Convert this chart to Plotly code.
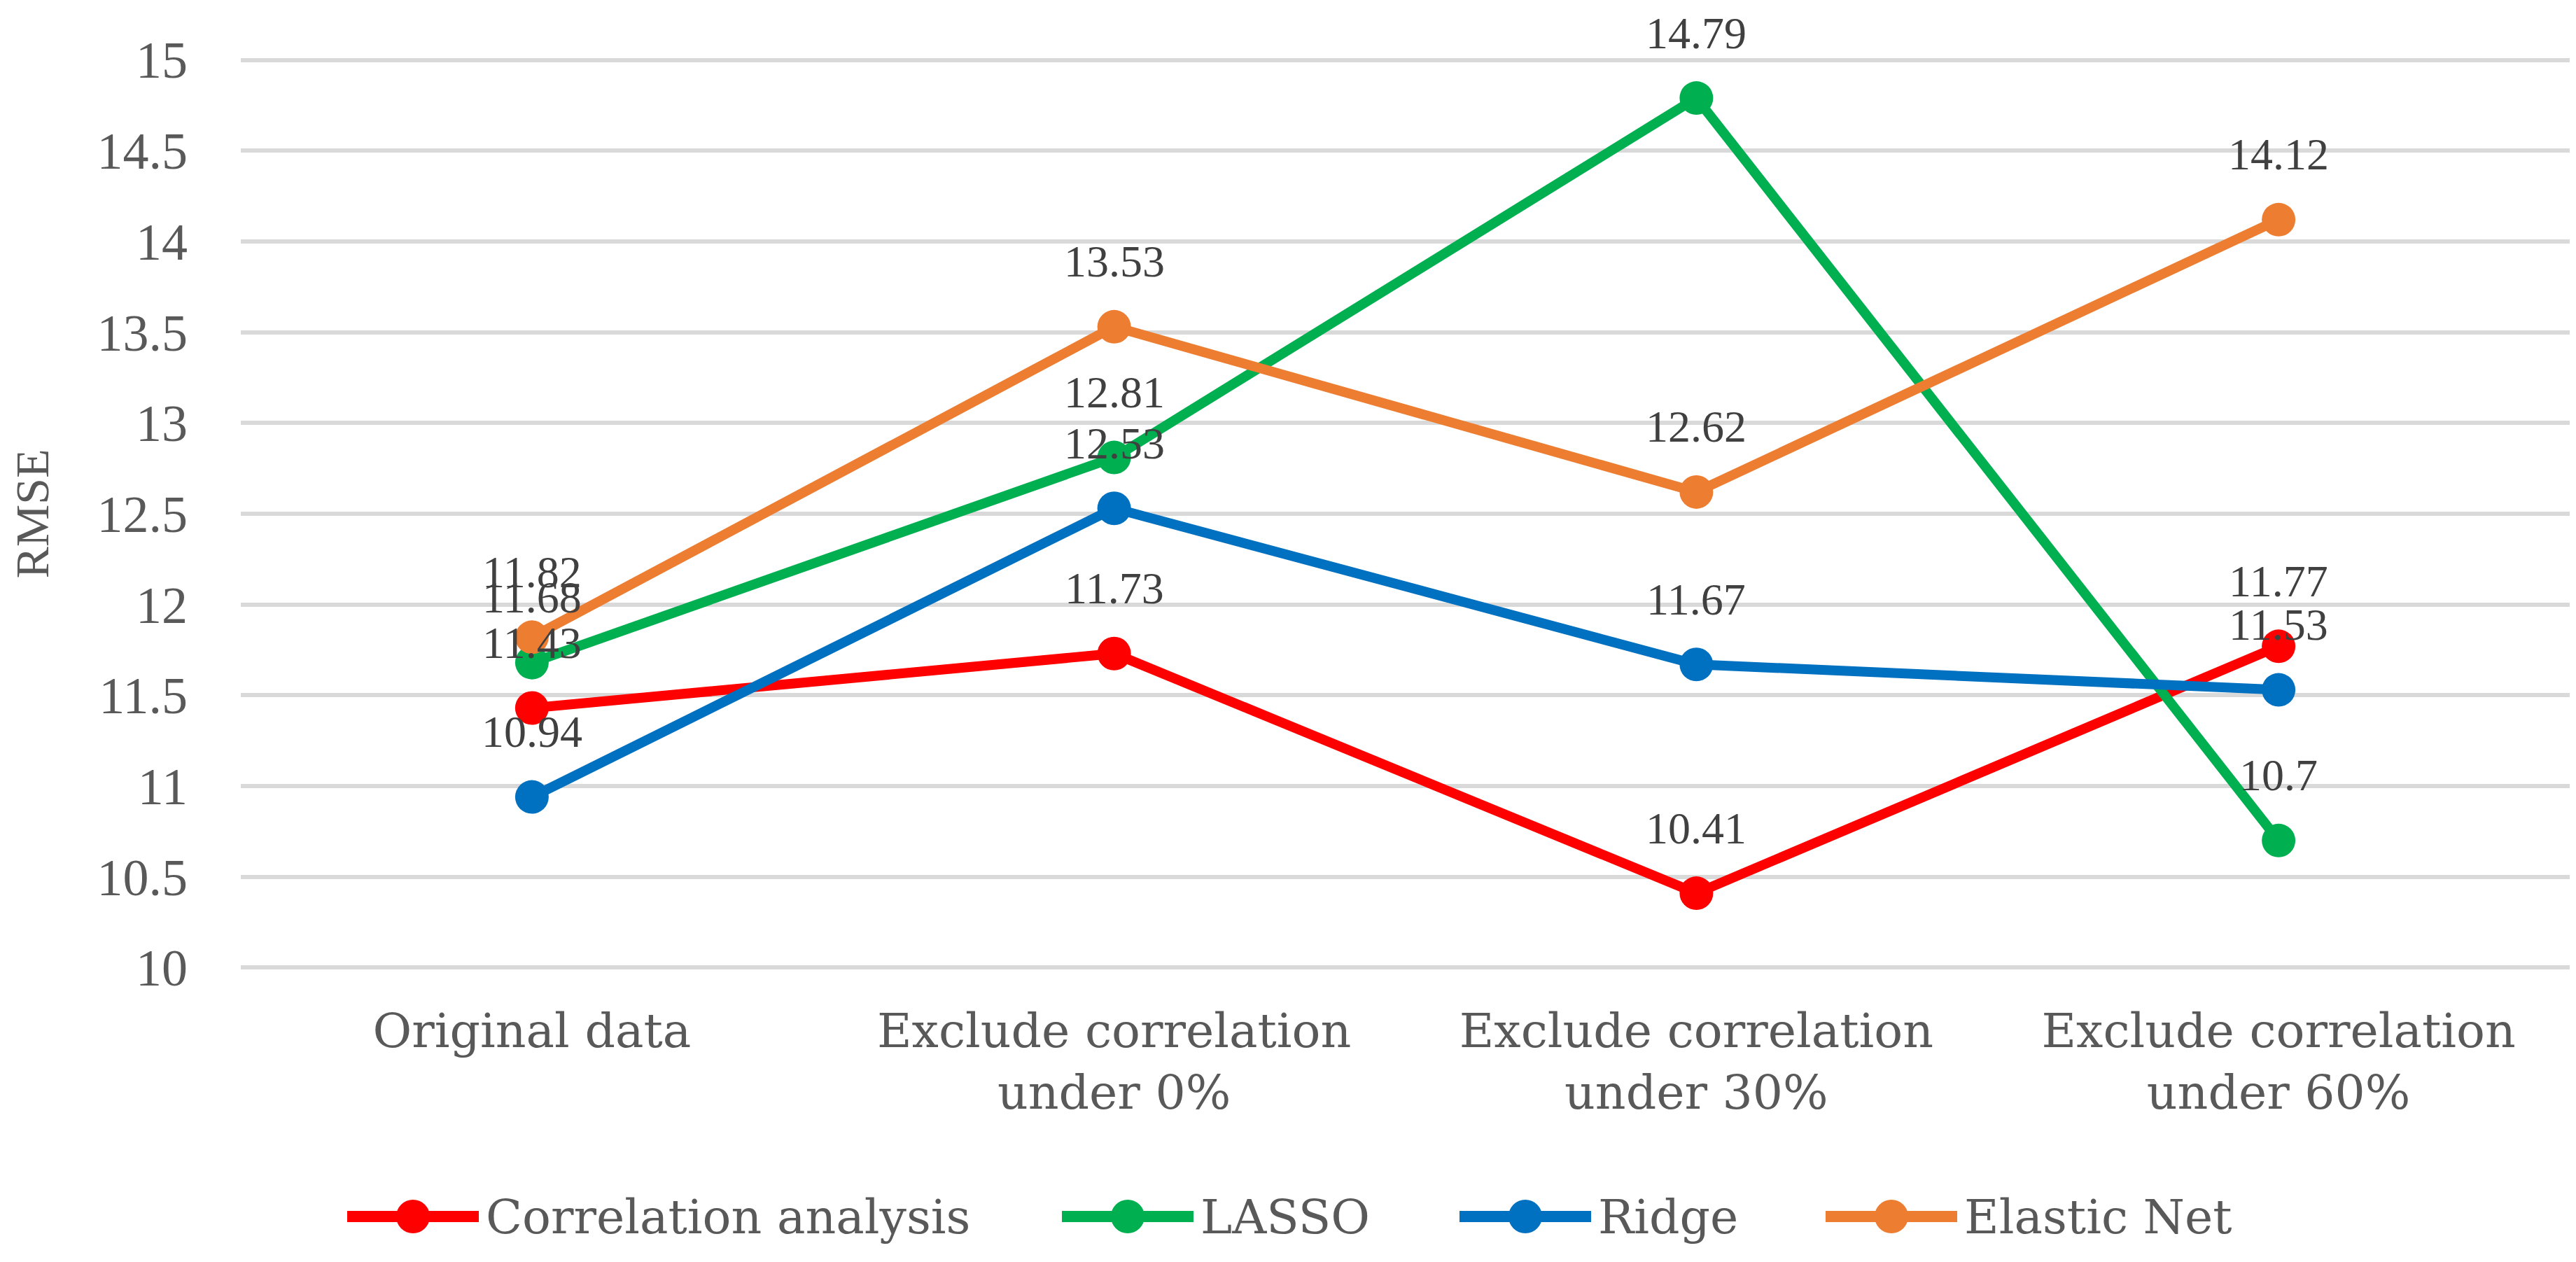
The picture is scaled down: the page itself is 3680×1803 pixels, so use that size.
import plotly.graph_objects as go

categories = ["Original data", "Exclude correlation<br>under 0%",
              "Exclude correlation<br>under 30%", "Exclude correlation<br>under 60%"]
series_names = ["Correlation analysis", "LASSO", "Ridge", "Elastic Net"]
corr_vals = [11.43, 11.73, 10.41, 11.77]
lasso_vals = [11.68, 12.81, 14.79, 10.7]
ridge_vals = [10.94, 12.53, 11.67, 11.53]
enet_vals = [11.82, 13.53, 12.62, 14.12]
y_ticks = [10, 10.5, 11, 11.5, 12, 12.5, 13, 13.5, 14, 14.5, 15]

colors = ["#FF0000", "#00B050", "#0070C0", "#ED7D31"]
all_vals = [corr_vals, lasso_vals, ridge_vals, enet_vals]

TEXT_FONT = "DejaVu Serif"
NUM_FONT = "Liberation Serif"

W, H = 3680, 1803
L, R, T, B = 336, 17, 75, 426
PW, PH = W - L - R, H - T - B

fig = go.Figure()
annotations = []
for name, vals, col in zip(series_names, all_vals, colors):
    fig.add_trace(go.Scatter(
        x=categories, y=vals, name=name, mode="lines+markers",
        line=dict(color=col, width=14),
        marker=dict(color=col, size=48),
        showlegend=False,
    ))
    for c, v in zip(categories, vals):
        annotations.append(dict(
            x=c, y=v, xref="x", yref="y", text=f"{v:g}", showarrow=False,
            yshift=93, font=dict(family=NUM_FONT, size=64, color="#404040"),
        ))

# custom legend (long line symbols with big markers, as in the reference)
legend_line_starts = [488, 1509, 2077, 2600]   # pixel x of symbol start
legend_sym_len = 188
legend_y_px = 1730
shapes = []
for name, col, x0 in zip(series_names, colors, legend_line_starts):
    px2x = lambda p: (p - L) / PW
    ly = (H - B - legend_y_px) / PH
    shapes.append(dict(type="line", xref="paper", yref="paper",
                       x0=px2x(x0), x1=px2x(x0 + legend_sym_len), y0=ly, y1=ly,
                       line=dict(color=col, width=16)))
    shapes.append(dict(type="circle", xref="paper", yref="paper",
                       xsizemode="pixel", ysizemode="pixel",
                       xanchor=px2x(x0 + legend_sym_len / 2), yanchor=ly,
                       x0=-24, x1=24, y0=-24, y1=24,
                       fillcolor=col, line=dict(width=0)))
    annotations.append(dict(x=px2x(x0 + legend_sym_len + 8), y=ly, xref="paper", yref="paper",
                            xanchor="left", yanchor="middle", showarrow=False, text=name,
                            font=dict(family=TEXT_FONT, size=68, color="#595959")))

fig.update_layout(
    width=W, height=H,
    margin=dict(l=L, r=R, t=T, b=B, autoexpand=False),
    paper_bgcolor="white", plot_bgcolor="white",
    annotations=annotations, shapes=shapes,
    showlegend=False,
    xaxis=dict(
        type="category", range=[-0.5, 3.5], showgrid=False, zeroline=False,
        showline=False, ticks="", tickangle=0, automargin=False,
        tickfont=dict(family=TEXT_FONT, size=68, color="#595959"),
        ticklabelstandoff=42,
    ),
    yaxis=dict(
        range=[9.99, 15.01], tickvals=y_ticks, ticktext=[f"{t:g}" for t in y_ticks],
        showgrid=True, gridcolor="#D9D9D9", gridwidth=6, zeroline=False,
        showline=False, ticks="", automargin=False,
        tickfont=dict(family=NUM_FONT, size=74, color="#595959"),
        ticklabelstandoff=75,
        title=dict(text="RMSE", font=dict(family=NUM_FONT, size=68, color="#595959"),
                   standoff=58),
    ),
)

fig.write_html("out.html")
